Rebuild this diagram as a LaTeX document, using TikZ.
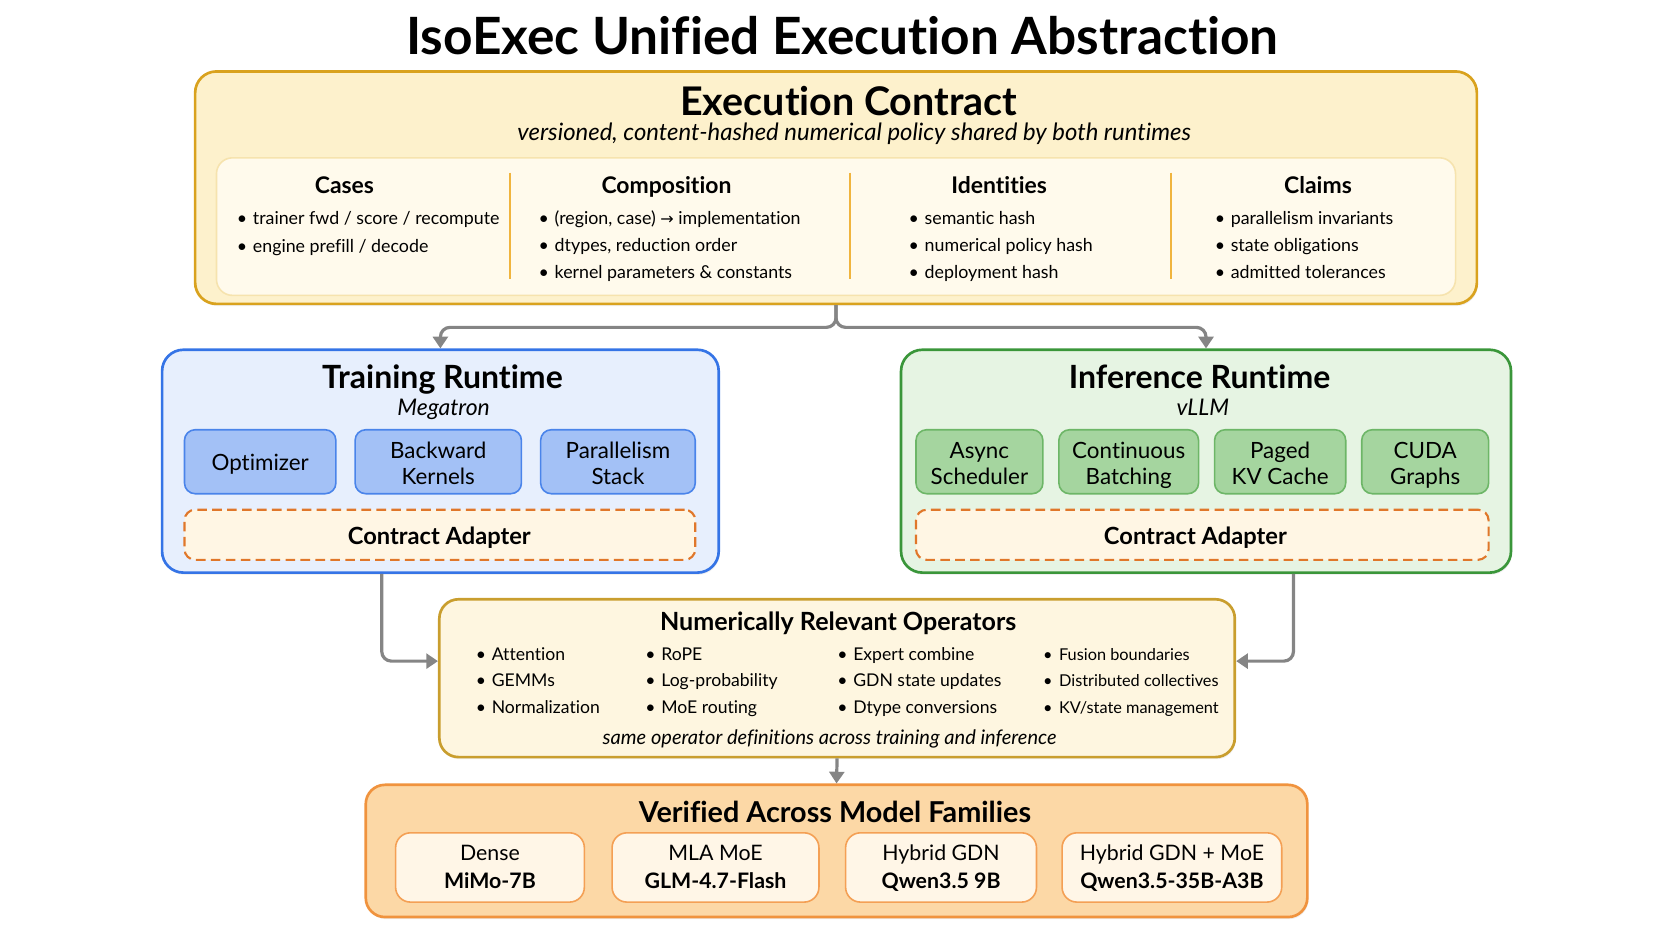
\documentclass[tikz,border=0pt]{standalone}
\usepackage{fontspec}
\setmainfont{Lato}[Ligatures=NoCommon]
\newfontfamily\symf{DejaVu Sans}
\usetikzlibrary{arrows.meta,shadows,calc}
\newcommand\myfs[2]{\fontsize{#1}{#2}\selectfont}
\newcommand\bul{\makebox[15pt][l]{•}}
\newcommand\twol[3]{\raisebox{-#1}[\height][\depth]{\begin{tabular}{@{}c@{}}#2\\#3\end{tabular}}}
\newcommand\onel[2]{\raisebox{-#1}[\height][\depth]{#2}}
\definecolor{ctrf}{HTML}{FDF1CC}
\definecolor{ctrb}{HTML}{D9A21E}
\definecolor{innf}{HTML}{FFFAEC}
\definecolor{innb}{HTML}{F6E3AE}
\definecolor{divc}{HTML}{F0B43E}
\definecolor{trf}{HTML}{E7EFFD}
\definecolor{trb}{HTML}{3574E6}
\definecolor{trsf}{HTML}{A3C1F6}
\definecolor{trsb}{HTML}{4A84EA}
\definecolor{inf}{HTML}{E6F4E3}
\definecolor{inb}{HTML}{3A963A}
\definecolor{insf}{HTML}{A5D59F}
\definecolor{insb}{HTML}{6DB667}
\definecolor{adf}{HTML}{FFF6E4}
\definecolor{adb}{HTML}{E0772A}
\definecolor{opf}{HTML}{FEF6E0}
\definecolor{opb}{HTML}{C99E2E}
\definecolor{famf}{HTML}{FCD8A6}
\definecolor{famb}{HTML}{F0933E}
\definecolor{fsf}{HTML}{FFF6E7}
\definecolor{fsb}{HTML}{F4A055}
\definecolor{connc}{HTML}{858585}
\tikzset{
  conn/.style={draw=connc, line width=3pt, rounded corners=9pt, -{Triangle[width=14pt,length=11pt]}},
  outer/.style={line width=2.5pt, rounded corners=20pt, inner sep=0pt,
    drop shadow={opacity=0.12, shadow xshift=1pt, shadow yshift=-2pt}},
  subbox/.style={line width=1.5pt, rounded corners=10pt, inner sep=0pt,
    font=\myfs{21}{24.5}, minimum height=60pt},
  adapter/.style={draw=adb, fill=adf, line width=2pt, dash pattern=on 9pt off 5pt,
    rounded corners=10pt, inner sep=0pt},
  adtext/.style={anchor=base, inner sep=0pt, font=\bfseries\myfs{22.2}{26}},
  famsub/.style={draw=fsb, fill=fsf, line width=1.5pt, rounded corners=14pt, inner sep=0pt,
    font=\myfs{20}{26}, minimum height=65pt},
  divider/.style={draw=divc, line width=1.5pt},
  hdr/.style={anchor=base, inner sep=0pt, font=\bfseries\myfs{21.5}{25}},
  bl/.style={anchor=base west, inner sep=0pt, font=\myfs{16.7}{20}},
  ob/.style={anchor=base west, inner sep=0pt, font=\myfs{16.5}{20}},
  obn/.style={anchor=base west, inner sep=0pt, font=\myfs{15.3}{20}},
}
\begin{document}
\begin{tikzpicture}[x=1pt,y=-1pt]
\useasboundingbox (0,0) rectangle (1568,882.5);

% title
\node[anchor=base, inner sep=0pt, font=\bfseries\myfs{48.2}{55}] (title) at (790,51.5) {IsoExec Unified Execution Abstraction};

% ---------------- contract
\node[outer, draw=ctrb, fill=ctrf, minimum width=1202pt, minimum height=218pt] (contract) at (784,176) {};
\node[anchor=base, inner sep=0pt, font=\bfseries\myfs{37}{44}] (ctitle) at (796,108) {Execution Contract};
\node[anchor=base, inner sep=0pt, font=\itshape\myfs{22.4}{26}] (csub) at (801,132) {versioned, content-hashed numerical policy shared by both runtimes};
\node[draw=innb, fill=innf, line width=1.5pt, rounded corners=15pt, inner sep=0pt,
  minimum width=1162pt, minimum height=129pt] (inner) at (784,212.5) {};
\draw[divider] (478,162) -- (478,262);
\draw[divider] (797,162) -- (797,262);
\draw[divider] (1098,162) -- (1098,262);

\node[hdr] (hcases) at (323,181) {Cases};
\node[hdr] (hcomp) at (625,181) {Composition};
\node[hdr] (hid) at (937,181) {Identities};
\node[hdr] (hclaims) at (1236,181) {Claims};

\foreach \t [count=\i] in {trainer fwd / score / recompute, engine prefill / decode}
  \node[bl] (cas\i) at (222,{211+25.5*(\i-1)}) {\bul\t};
\foreach \t [count=\i] in {{(region, case) {\symf\myfs{15}{20}→} implementation}, {dtypes, reduction order}, kernel parameters \& constants}
  \node[bl] (com\i) at (505,{211+25*(\i-1)}) {\bul\t};
\foreach \t [count=\i] in {semantic hash, numerical policy hash, deployment hash}
  \node[bl] (ide\i) at (852,{211+25*(\i-1)}) {\bul\t};
\foreach \t [count=\i] in {parallelism invariants, state obligations, admitted tolerances}
  \node[bl] (cla\i) at (1139,{211+25*(\i-1)}) {\bul\t};

% ---------------- training
\node[outer, draw=trb, fill=trf, minimum width=522pt, minimum height=209pt] (train) at (413,432.5) {};
\node[anchor=base, inner sep=0pt, font=\bfseries\myfs{30}{36}] (ttitle) at (415,364) {Training Runtime};
\node[anchor=base, inner sep=0pt, font=\itshape\myfs{21.5}{25}] (tsub) at (416,389.5) {Megatron};
\node[subbox, draw=trsb, fill=trsf, minimum width=142pt] (opt) at (244,433) {\onel{2pt}{Optimizer}};
\node[subbox, draw=trsb, fill=trsf, minimum width=156pt] (bwd) at (411,433) {\twol{4pt}{Backward}{Kernels}};
\node[subbox, draw=trsb, fill=trsf, minimum width=145pt] (par) at (579.5,433) {\twol{4pt}{Parallelism}{Stack}};
\node[adapter, minimum width=479pt, minimum height=47pt] (tad) at (412.5,501.5) {};
\node[adtext] (tadt) at (412,511) {Contract Adapter};

% ---------------- inference
\node[outer, draw=inb, fill=inf, minimum width=572pt, minimum height=209pt] (infer) at (1131,432.5) {};
\node[anchor=base, inner sep=0pt, font=\bfseries\myfs{30}{36}] (ititle) at (1125,364) {Inference Runtime};
\node[anchor=base, inner sep=0pt, font=\itshape\myfs{21.5}{25}] (isub) at (1128,389.5) {vLLM};
\node[subbox, draw=insb, fill=insf, minimum width=119pt] (asy) at (918.5,433) {\twol{4pt}{Async}{Scheduler}};
\node[subbox, draw=insb, fill=insf, minimum width=131pt] (cbat) at (1058.5,433) {\twol{4pt}{Continuous}{Batching}};
\node[subbox, draw=insb, fill=insf, minimum width=123pt] (pkv) at (1200.5,433) {\twol{4pt}{Paged}{KV Cache}};
\node[subbox, draw=insb, fill=insf, minimum width=119pt] (cuda) at (1336.5,433) {\twol{4pt}{CUDA}{Graphs}};
\node[adapter, minimum width=537pt, minimum height=47pt] (iad) at (1127.5,501.5) {};
\node[adtext] (iadt) at (1121,511) {Contract Adapter};

% ---------------- operators
\node[outer, draw=opb, fill=opf, rounded corners=18pt, minimum width=746pt, minimum height=148pt] (ops) at (785,636) {};
\node[anchor=base, inner sep=0pt, font=\bfseries\myfs{23.5}{27}] (otitle) at (786,591) {Numerically Relevant Operators};
\foreach \t [count=\i] in {Attention, GEMMs, Normalization}
  \node[ob] (opa\i) at (446,{619+25*(\i-1)}) {\bul\t};
\foreach \t [count=\i] in {RoPE, Log-probability, MoE routing}
  \node[ob] (opb\i) at (605,{619+25*(\i-1)}) {\bul\t};
\foreach \t [count=\i] in {Expert combine, GDN state updates, Dtype conversions}
  \node[ob] (opc\i) at (785,{619+25*(\i-1)}) {\bul\t};
\foreach \t [count=\i] in {Fusion boundaries, Distributed collectives, KV/state management}
  \node[obn] (opd\i) at (978,{619+25*(\i-1)}) {\bul\t};
\node[anchor=base, inner sep=0pt, font=\itshape\myfs{18.8}{22}] (ofoot) at (778,698) {same operator definitions across training and inference};

% ---------------- families
\node[outer, draw=famb, fill=famf, rounded corners=18pt, minimum width=883pt, minimum height=124pt] (fam) at (784.5,798) {};
\node[anchor=base, inner sep=0pt, font=\bfseries\myfs{27}{31}] (ftitle) at (783,771) {Verified Across Model Families};
\node[famsub, minimum width=177pt] (f1) at (459.5,813.5) {\twol{1.5pt}{Dense}{\textbf{MiMo-7B}}};
\node[famsub, minimum width=194pt] (f2) at (671,813.5) {\twol{1.5pt}{MLA MoE}{\textbf{GLM-4.7-Flash}}};
\node[famsub, minimum width=179pt] (f3) at (882.5,813.5) {\twol{1.5pt}{Hybrid GDN}{\textbf{Qwen3.5 9B}}};
\node[famsub, minimum width=206pt] (f4) at (1099,813.5) {\twol{1.5pt}{Hybrid GDN + MoE}{\textbf{Qwen3.5-35B-A3B}}};

% ---------------- connectors
\coordinate (split) at (784,307);
\draw[conn] (contract.south) -- (contract.south |- split) -| (train.north);
\draw[conn] (contract.south) -- (contract.south |- split) -| (infer.north);
\draw[conn] ([xshift=-55pt]train.south) |- ([yshift=16pt]ops.west);
\draw[conn] ([xshift=82pt]infer.south) |- ([yshift=16pt]ops.east);
\draw[conn, rounded corners=0pt] (ops.south) -- (fam.north);
\end{tikzpicture}
\end{document}
